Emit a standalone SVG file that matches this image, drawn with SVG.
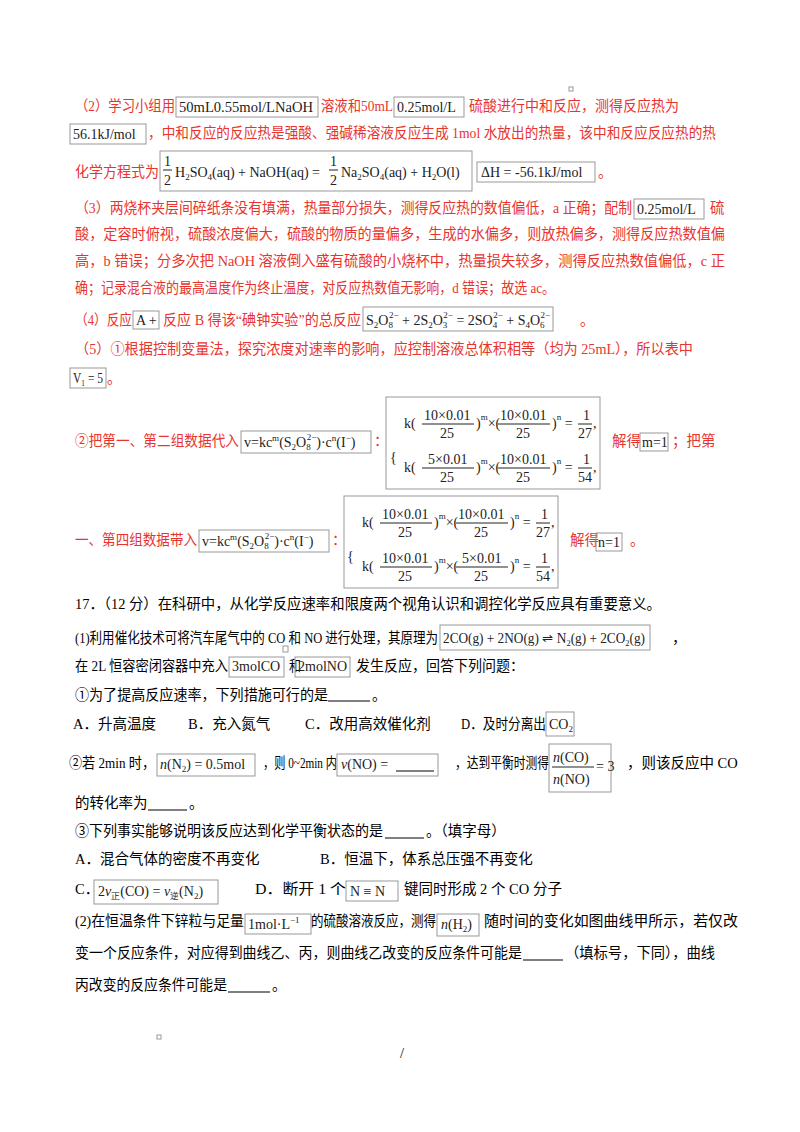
<svg xmlns="http://www.w3.org/2000/svg" width="800" height="1132" viewBox="0 0 800 1132">
<style>
text{font-family:"Liberation Serif","Noto Sans CJK SC",serif;font-size:14.5px;fill:#000}
.r{fill:#e8342e}
.m{font-family:"Liberation Serif",serif;font-size:14px;fill:#222}
.s{font-size:9px}
.b{fill:none;stroke:#999;stroke-width:1}
.u{stroke:#000;stroke-width:1.2}
</style>
<rect width="800" height="1132" fill="#fff"/>
<rect x="569" y="87" width="4" height="4" class="b"/>
<g id="p2">
<text class="r" x="75" y="111" textLength="100" lengthAdjust="spacingAndGlyphs">（2）学习小组用</text>
<rect class="b" x="176" y="97" width="142" height="20"/><text class="m" x="179" y="112" textLength="134" lengthAdjust="spacingAndGlyphs">50mL0.55mol/LNaOH</text>
<text class="r" x="321" y="111" textLength="72" lengthAdjust="spacingAndGlyphs">溶液和50mL</text>
<rect class="b" x="394" y="97" width="70" height="20"/><text class="m" x="397" y="112">0.25mol/L</text>
<text class="r" x="469" y="111" textLength="210" lengthAdjust="spacingAndGlyphs">硫酸进行中和反应，测得反应热为</text>
<rect class="b" x="70" y="124" width="76" height="20"/><text class="m" x="73" y="139">56.1kJ/mol</text>
<text class="r" x="148" y="138" textLength="568" lengthAdjust="spacingAndGlyphs">，中和反应的反应热是强酸、强碱稀溶液反应生成 1mol 水放出的热量，该中和反应反应热的热</text>
<text class="r" x="75" y="177" textLength="84" lengthAdjust="spacingAndGlyphs">化学方程式为</text>
<rect class="b" x="160" y="151" width="312" height="40"/>
<text class="m" x="164" y="166">1</text><line x1="163" y1="170" x2="172" y2="170" stroke="#222"/><text class="m" x="164" y="185">2</text>
<text class="m" x="175" y="177">H<tspan class="s" dy="3">2</tspan><tspan dy="-3">SO</tspan><tspan class="s" dy="3">4</tspan><tspan dy="-3">(aq) + NaOH(aq) = </tspan></text>
<text class="m" x="330" y="166">1</text><line x1="329" y1="170" x2="338" y2="170" stroke="#222"/><text class="m" x="330" y="185">2</text>
<text class="m" x="341" y="177">Na<tspan class="s" dy="3">2</tspan><tspan dy="-3">SO</tspan><tspan class="s" dy="3">4</tspan><tspan dy="-3">(aq) + H</tspan><tspan class="s" dy="3">2</tspan><tspan dy="-3">O(l)</tspan></text>
<rect class="b" x="477" y="162" width="118" height="20"/><text class="m" x="481" y="177">ΔH = -56.1kJ/mol</text>
<text class="r" x="598" y="177">。</text>
</g>
<g id="p3">
<text class="r" x="75" y="213" textLength="557" lengthAdjust="spacingAndGlyphs">（3）两烧杯夹层间碎纸条没有填满，热量部分损失，测得反应热的数值偏低，a 正确；配制</text>
<rect class="b" x="634" y="199" width="70" height="20"/><text class="m" x="637" y="214">0.25mol/L</text>
<text class="r" x="710" y="213">硫</text>
<text class="r" x="75" y="239" textLength="650" lengthAdjust="spacingAndGlyphs">酸，定容时俯视，硫酸浓度偏大，硫酸的物质的量偏多，生成的水偏多，则放热偏多，测得反应热数值偏</text>
<text class="r" x="75" y="266" textLength="650" lengthAdjust="spacingAndGlyphs">高，b 错误；分多次把 NaOH 溶液倒入盛有硫酸的小烧杯中，热量损失较多，测得反应热数值偏低，c 正</text>
<text class="r" x="75" y="293" textLength="480" lengthAdjust="spacingAndGlyphs">确；记录混合液的最高温度作为终止温度，对反应热数值无影响，d 错误；故选 ac。</text>
</g>
<g id="p4">
<text class="r" x="75" y="325" textLength="57" lengthAdjust="spacingAndGlyphs">（4）反应</text>
<rect class="b" x="133" y="311" width="26" height="18"/><text class="m" x="136" y="325">A +</text>
<text class="r" x="163" y="325" textLength="198" lengthAdjust="spacingAndGlyphs">反应 B 得该“碘钟实验”的总反应</text>
<rect class="b" x="363" y="307" width="190" height="24"/>
<text class="m" x="366" y="325">S<tspan class="s" dy="3">2</tspan><tspan dy="-3">O</tspan><tspan class="s" dy="3">8</tspan><tspan class="s" dx="-4" dy="-10">2−</tspan><tspan dy="7"> + 2S</tspan><tspan class="s" dy="3">2</tspan><tspan dy="-3">O</tspan><tspan class="s" dy="3">3</tspan><tspan class="s" dx="-4" dy="-10">2−</tspan><tspan dy="7"> = 2SO</tspan><tspan class="s" dy="3">4</tspan><tspan class="s" dx="-4" dy="-10">2−</tspan><tspan dy="7"> + S</tspan><tspan class="s" dy="3">4</tspan><tspan dy="-3">O</tspan><tspan class="s" dy="3">6</tspan><tspan class="s" dx="-4" dy="-10">2−</tspan></text>
<text class="r" x="580" y="325">。</text>
</g>
<g id="p5">
<text class="r" x="75" y="354" textLength="618" lengthAdjust="spacingAndGlyphs">（5）①根据控制变量法，探究浓度对速率的影响，应控制溶液总体积相等（均为 25mL），所以表中</text>
<rect class="b" x="70" y="368" width="36" height="20"/><text class="m" x="73" y="383" textLength="30" lengthAdjust="spacingAndGlyphs">V<tspan class="s" dy="3">1</tspan><tspan dy="-3"> = 5</tspan></text>
<text class="r" x="107" y="383">。</text>
<text class="r" x="75" y="446" textLength="164" lengthAdjust="spacingAndGlyphs">②把第一、第二组数据代入</text>
<rect class="b" x="241" y="431" width="130" height="22"/>
<text class="m" x="244" y="447">v=kc<tspan class="s" dy="-6">m</tspan><tspan dy="6">(S</tspan><tspan class="s" dy="3">2</tspan><tspan dy="-3">O</tspan><tspan class="s" dy="3">8</tspan><tspan class="s" dx="-4" dy="-10">2−</tspan><tspan dy="7">)·c</tspan><tspan class="s" dy="-6">n</tspan><tspan dy="6">(I</tspan><tspan class="s" dy="-6">−</tspan><tspan dy="6">)</tspan></text>
<text class="r" x="374" y="446">：</text>
<rect class="b" x="386" y="397" width="214" height="92"/>
<text class="m" x="390" y="462" font-size="50">{</text>
<text class="m" x="404" y="428">k(</text><text class="m" x="424" y="420">10×0.01</text><line x1="422" y1="424" x2="474" y2="424" stroke="#222"/><text class="m" x="440" y="438">25</text>
<text class="m" x="476" y="428">)<tspan class="s" dy="-8">m</tspan><tspan dy="8">×(</tspan></text><text class="m" x="500" y="420">10×0.01</text><line x1="498" y1="424" x2="550" y2="424" stroke="#222"/><text class="m" x="516" y="438">25</text>
<text class="m" x="552" y="428">)<tspan class="s" dy="-8">n</tspan><tspan dy="8"> = </tspan></text><text class="m" x="583" y="420">1</text><line x1="578" y1="424" x2="592" y2="424" stroke="#222"/><text class="m" x="578" y="438">27</text><text class="m" x="593" y="428">,</text>
<text class="m" x="404" y="472">k(</text><text class="m" x="428" y="464">5×0.01</text><line x1="422" y1="468" x2="474" y2="468" stroke="#222"/><text class="m" x="440" y="482">25</text>
<text class="m" x="476" y="472">)<tspan class="s" dy="-8">m</tspan><tspan dy="8">×(</tspan></text><text class="m" x="500" y="464">10×0.01</text><line x1="498" y1="468" x2="550" y2="468" stroke="#222"/><text class="m" x="516" y="482">25</text>
<text class="m" x="552" y="472">)<tspan class="s" dy="-8">n</tspan><tspan dy="8"> = </tspan></text><text class="m" x="583" y="464">1</text><line x1="578" y1="468" x2="592" y2="468" stroke="#222"/><text class="m" x="578" y="482">54</text><text class="m" x="593" y="472">,</text>
<text class="r" x="612" y="446">解得</text>
<rect class="b" x="640" y="433" width="28" height="18"/><text class="m" x="642" y="447">m=1</text>
<text class="r" x="672" y="446">；把第</text>
<text class="r" x="75" y="545" textLength="122" lengthAdjust="spacingAndGlyphs">一、第四组数据带入</text>
<rect class="b" x="199" y="530" width="130" height="22"/>
<text class="m" x="202" y="546">v=kc<tspan class="s" dy="-6">m</tspan><tspan dy="6">(S</tspan><tspan class="s" dy="3">2</tspan><tspan dy="-3">O</tspan><tspan class="s" dy="3">8</tspan><tspan class="s" dx="-4" dy="-10">2−</tspan><tspan dy="7">)·c</tspan><tspan class="s" dy="-6">n</tspan><tspan dy="6">(I</tspan><tspan class="s" dy="-6">−</tspan><tspan dy="6">)</tspan></text>
<text class="r" x="332" y="545">：</text>
<rect class="b" x="344" y="496" width="214" height="92"/>
<text class="m" x="347" y="561" font-size="50">{</text>
<text class="m" x="362" y="527">k(</text><text class="m" x="382" y="519">10×0.01</text><line x1="380" y1="523" x2="432" y2="523" stroke="#222"/><text class="m" x="398" y="537">25</text>
<text class="m" x="434" y="527">)<tspan class="s" dy="-8">m</tspan><tspan dy="8">×(</tspan></text><text class="m" x="458" y="519">10×0.01</text><line x1="456" y1="523" x2="508" y2="523" stroke="#222"/><text class="m" x="474" y="537">25</text>
<text class="m" x="510" y="527">)<tspan class="s" dy="-8">n</tspan><tspan dy="8"> = </tspan></text><text class="m" x="541" y="519">1</text><line x1="536" y1="523" x2="550" y2="523" stroke="#222"/><text class="m" x="536" y="537">27</text><text class="m" x="551" y="527">,</text>
<text class="m" x="362" y="571">k(</text><text class="m" x="382" y="563">10×0.01</text><line x1="380" y1="567" x2="432" y2="567" stroke="#222"/><text class="m" x="398" y="581">25</text>
<text class="m" x="434" y="571">)<tspan class="s" dy="-8">m</tspan><tspan dy="8">×(</tspan></text><text class="m" x="462" y="563">5×0.01</text><line x1="456" y1="567" x2="508" y2="567" stroke="#222"/><text class="m" x="474" y="581">25</text>
<text class="m" x="510" y="571">)<tspan class="s" dy="-8">n</tspan><tspan dy="8"> = </tspan></text><text class="m" x="541" y="563">1</text><line x1="536" y1="567" x2="550" y2="567" stroke="#222"/><text class="m" x="536" y="581">54</text><text class="m" x="551" y="571">,</text>
<text class="r" x="570" y="545">解得</text>
<rect class="b" x="596" y="533" width="26" height="18"/><text class="m" x="598" y="547">n=1</text>
<text class="r" x="630" y="545">。</text>
</g>
<g id="q17">
<text x="75" y="609" textLength="586" lengthAdjust="spacingAndGlyphs">17．（12 分）在科研中，从化学反应速率和限度两个视角认识和调控化学反应具有重要意义。</text>
<text x="75" y="643" textLength="363" lengthAdjust="spacingAndGlyphs">(1)利用催化技术可将汽车尾气中的 CO 和 NO 进行处理，其原理为</text>
<rect class="b" x="283" y="646" width="5" height="6"/>
<rect class="b" x="440" y="625" width="210" height="25"/>
<text class="m" x="443" y="643" textLength="202" lengthAdjust="spacingAndGlyphs">2CO(g) + 2NO(g) ⇌ N<tspan class="s" dy="3">2</tspan><tspan dy="-3">(g) + 2CO</tspan><tspan class="s" dy="3">2</tspan><tspan dy="-3">(g)</tspan></text>
<text x="672" y="643">，</text>
<text x="75" y="671" textLength="153" lengthAdjust="spacingAndGlyphs">在 2L 恒容密闭容器中充入</text>
<rect class="b" x="229" y="657" width="55" height="20"/><text class="m" x="232" y="671">3molCO</text>
<text x="289" y="671" textLength="12" lengthAdjust="spacingAndGlyphs">和</text>
<rect class="b" x="295" y="657" width="55" height="20"/><text class="m" x="298" y="671">2molNO</text>
<text x="356" y="671" textLength="168" lengthAdjust="spacingAndGlyphs">发生反应，回答下列问题：</text>
<text x="75" y="700" textLength="253" lengthAdjust="spacingAndGlyphs">①为了提高反应速率，下列措施可行的是</text>
<line class="u" x1="328" y1="701" x2="370" y2="701"/>
<text x="372" y="700">。</text>
<text x="73" y="729">A．升高温度</text><text x="188" y="729">B．充入氮气</text><text x="305" y="729">C．改用高效催化剂</text><text x="461" y="729" textLength="85" lengthAdjust="spacingAndGlyphs">D．及时分离出</text>
<rect class="b" x="546" y="712" width="28" height="24"/><text class="m" x="549" y="729">CO<tspan class="s" dy="3">2</tspan></text>
<text x="69" y="768" textLength="86" lengthAdjust="spacingAndGlyphs">②若 2min 时，</text>
<rect class="b" x="157" y="754" width="98" height="22"/><text class="m" x="160" y="769"><tspan font-style="italic">n</tspan>(N<tspan class="s" dy="3">2</tspan><tspan dy="-3">) = 0.5mol</tspan></text>
<text x="263" y="768" textLength="74" lengthAdjust="spacingAndGlyphs">，则 0~2min 内</text>
<rect class="b" x="337" y="754" width="101" height="22"/><text class="m" x="341" y="769"><tspan font-style="italic">v</tspan>(NO) =</text>
<line class="u" x1="396" y1="771" x2="434" y2="771"/>
<text x="455" y="768" textLength="94" lengthAdjust="spacingAndGlyphs">，达到平衡时测得</text>
<rect class="b" x="549" y="744" width="62" height="48"/>
<text class="m" x="553" y="762"><tspan font-style="italic">n</tspan>(CO)</text><line x1="552" y1="767" x2="594" y2="767" stroke="#222"/><text class="m" x="553" y="784"><tspan font-style="italic">n</tspan>(NO)</text><text class="m" x="596" y="771">= 3</text>
<text x="627" y="768">，则该反应中 CO</text>
<text x="75" y="808">的转化率为</text>
<line class="u" x1="148" y1="810" x2="187" y2="810"/>
<text x="189" y="808">。</text>
<text x="75" y="836" textLength="308" lengthAdjust="spacingAndGlyphs">③下列事实能够说明该反应达到化学平衡状态的是</text>
<line class="u" x1="385" y1="838" x2="424" y2="838"/>
<text x="426" y="836">。（填字母）</text>
<text x="75" y="864">A．混合气体的密度不再变化</text><text x="320" y="864">B．恒温下，体系总压强不再变化</text>
<text x="75" y="894">C．</text>
<rect class="b" x="94" y="880" width="124" height="24"/><text class="m" x="98" y="896">2<tspan font-style="italic">v</tspan><tspan class="s" dy="3">正</tspan><tspan dy="-3">(CO) = </tspan><tspan font-style="italic">v</tspan><tspan class="s" dy="3">逆</tspan><tspan dy="-3">(N</tspan><tspan class="s" dy="3">2</tspan><tspan dy="-3">)</tspan></text>
<text x="255" y="894" textLength="91" lengthAdjust="spacingAndGlyphs">D．断开 1 个</text>
<rect class="b" x="346" y="881" width="52" height="20"/><text class="m" x="350" y="896">N ≡ N</text>
<text x="404" y="894">键同时形成 2 个 CO 分子</text>
<text x="75" y="926" textLength="169" lengthAdjust="spacingAndGlyphs">(2)在恒温条件下锌粒与足量</text>
<rect class="b" x="245" y="914" width="66" height="20"/><text class="m" x="248" y="929">1mol·L<tspan class="s" dy="-6">−1</tspan></text>
<text x="311" y="926" textLength="125" lengthAdjust="spacingAndGlyphs">的硫酸溶液反应，测得</text>
<rect class="b" x="437" y="914" width="42" height="22"/><text class="m" x="441" y="929"><tspan font-style="italic">n</tspan>(H<tspan class="s" dy="3">2</tspan><tspan dy="-3">)</tspan></text>
<text x="484" y="926" textLength="254" lengthAdjust="spacingAndGlyphs">随时间的变化如图曲线甲所示，若仅改</text>
<text x="75" y="958" textLength="447" lengthAdjust="spacingAndGlyphs">变一个反应条件，对应得到曲线乙、丙，则曲线乙改变的反应条件可能是</text>
<line class="u" x1="523" y1="960" x2="563" y2="960"/>
<text x="565" y="958" textLength="150" lengthAdjust="spacingAndGlyphs">（填标号，下同），曲线</text>
<text x="75" y="990" textLength="152" lengthAdjust="spacingAndGlyphs">丙改变的反应条件可能是</text>
<line class="u" x1="228" y1="992" x2="270" y2="992"/>
<text x="272" y="990">。</text>
<rect class="b" x="157" y="1035" width="4" height="4"/>
<text x="400" y="1058" font-size="12">/</text>
</g>
</svg>
